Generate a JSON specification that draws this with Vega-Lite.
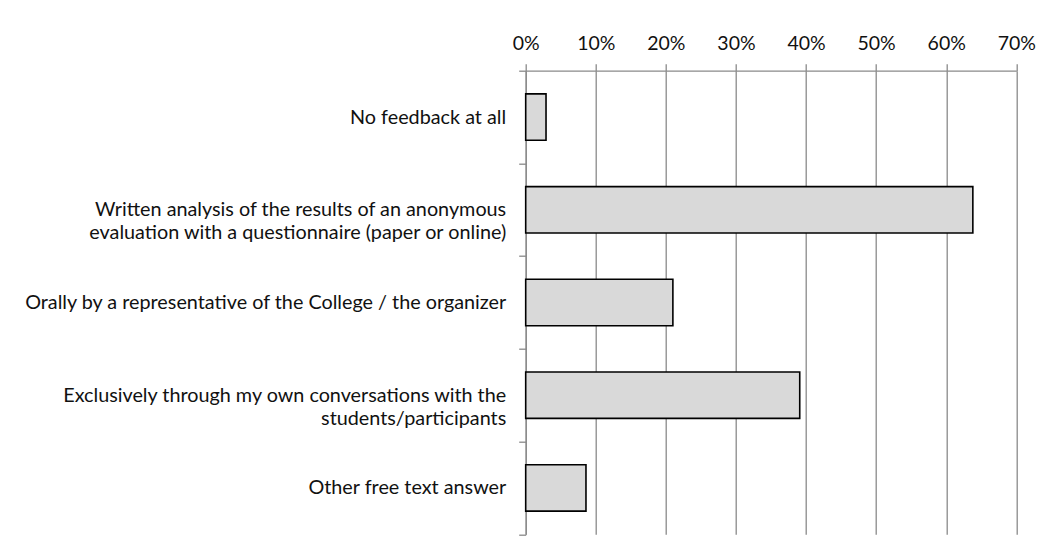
{
  "$schema": "https://vega.github.io/schema/vega-lite/v6.json",
  "autosize": "none",
  "padding": {"left": 525.7, "top": 70.7, "right": 37.7, "bottom": 19.7},
  "width": 490.6,
  "height": 463.6,
  "background": "white",
  "data": {
    "values": [
      {"answer": "No feedback at all", "share": 0.029},
      {"answer": "Written analysis of the results of an anonymous|evaluation with a questionnaire (paper or online)", "share": 0.638},
      {"answer": "Orally by a representative of the College / the organizer", "share": 0.21},
      {"answer": "Exclusively through my own conversations with the|students/participants", "share": 0.391},
      {"answer": "Other free text answer", "share": 0.086}
    ]
  },
  "mark": {"type": "bar", "fill": "#d9d9d9", "stroke": "#000000", "strokeWidth": 1.6, "height": {"band": 0.5}},
  "encoding": {
    "y": {
      "field": "answer",
      "type": "nominal",
      "sort": null,
      "scale": {"paddingInner": 0, "paddingOuter": 0},
      "axis": {
        "title": null,
        "orient": "left",
        "labelExpr": "split(datum.label, '|')",
        "labelFont": "Lato",
        "labelFontSize": 19.8,
        "labelColor": "#111111",
        "labelLineHeight": 23,
        "labelPadding": 13,
        "labelLimit": 600,
        "tickSize": 7,
        "tickBand": "extent",
        "tickColor": "#8a8a8a",
        "tickWidth": 1.3,
        "domainColor": "#8a8a8a",
        "domainWidth": 1.3,
        "grid": false
      }
    },
    "x": {
      "field": "share",
      "type": "quantitative",
      "scale": {"domain": [0, 0.7], "nice": false},
      "axis": {
        "title": null,
        "orient": "top",
        "values": [0, 0.1, 0.2, 0.3, 0.4, 0.5, 0.6, 0.7],
        "format": ".0%",
        "labelFont": "Lato",
        "labelFontSize": 19.5,
        "labelColor": "#111111",
        "labelPadding": 10,
        "labelFlush": false,
        "tickSize": 7,
        "tickColor": "#8a8a8a",
        "tickWidth": 1.3,
        "domainColor": "#8a8a8a",
        "domainWidth": 1.3,
        "grid": true,
        "gridColor": "#8a8a8a",
        "gridWidth": 1.3,
        "gridOpacity": 1
      }
    }
  },
  "config": {"view": {"stroke": null}}
}
